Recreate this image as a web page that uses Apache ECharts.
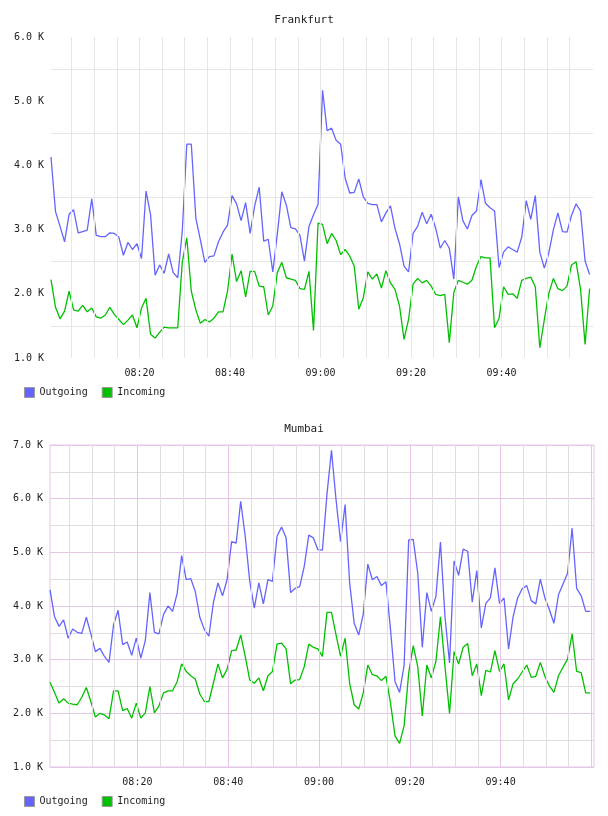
<!DOCTYPE html>
<html>
<head>
<meta charset="utf-8">
<script src="https://cdn.jsdelivr.net/npm/echarts@6/dist/echarts.min.js"></script>
<style>
  html, body { margin: 0; padding: 0; background: #fff; }
  #chart { width: 608px; height: 816px; }
</style>
</head>
<body>
<div id="chart"></div>
<script>
// minutes after 08:00 of the first sample, one sample per minute
const FRA_START = 0.45;
const MUM_START = 0.75;

const tickMinutes = [20, 40, 60, 80, 100];
const tickLabels = ['08:20', '08:40', '09:00', '09:20', '09:40'];

const frankfurtOut = [
  4130, 3280, 3050, 2810, 3240, 3310, 2950, 2970, 2990, 3480,
  2910, 2890, 2890, 2950, 2940, 2880, 2600, 2800, 2690, 2780,
  2550, 3600, 3230, 2290, 2450, 2320, 2620, 2330, 2250, 2970,
  4330, 4330, 3180, 2840, 2490, 2580, 2590, 2810, 2960, 3070,
  3530, 3400, 3140, 3420, 2940, 3370, 3660, 2820, 2850, 2340,
  2930, 3590, 3380, 3030, 3010, 2910, 2510, 3050, 3230, 3390,
  5170, 4540, 4580, 4390, 4330, 3800, 3570, 3580, 3790, 3510,
  3410, 3390, 3390, 3120, 3260, 3370, 3020, 2780, 2430, 2340,
  2940, 3050, 3270, 3090, 3240, 3020, 2710, 2830, 2710, 2230,
  3510, 3140, 3010, 3220, 3290, 3780, 3410, 3340, 3290, 2410,
  2650, 2730, 2690, 2650, 2880, 3450, 3160, 3530, 2650, 2400,
  2640, 3000, 3260, 2970, 2960, 3220, 3400, 3290, 2510, 2300
];
const frankfurtIn = [
  2220, 1790, 1610, 1730, 2040, 1750, 1730, 1820, 1720, 1780,
  1640, 1620, 1670, 1790, 1680, 1600, 1520, 1590, 1670, 1470,
  1780, 1930, 1370, 1310, 1400, 1480, 1470, 1470, 1470, 2490,
  2870, 2040, 1750, 1540, 1600, 1560, 1620, 1720, 1720, 2040,
  2620, 2190, 2360, 1950, 2350, 2350, 2120, 2110, 1670, 1810,
  2330, 2490, 2250, 2230, 2210, 2080, 2070, 2350, 1430, 3100,
  3080, 2780, 2940, 2830, 2610, 2690, 2590, 2430, 1760, 1940,
  2340, 2230, 2310, 2090, 2360, 2170, 2070, 1810, 1290, 1600,
  2150, 2240, 2170, 2210, 2120, 1990, 1970, 1990, 1240, 2020,
  2210, 2180, 2150, 2210, 2430, 2580, 2560, 2560, 1470, 1620,
  2110, 1990, 2000, 1930, 2210, 2240, 2260, 2110, 1160, 1600,
  2010, 2240, 2080, 2050, 2120, 2450, 2500, 2070, 1210, 2080
];
const mumbaiOut = [
  4300, 3800, 3620, 3740, 3400, 3570, 3510, 3490, 3790, 3480,
  3150, 3210, 3060, 2950, 3650, 3920, 3280, 3330, 3080, 3400,
  3030, 3360, 4250, 3510, 3480, 3840, 4000, 3900, 4230, 4940,
  4490, 4510, 4270, 3790, 3560, 3440, 4070, 4430, 4190, 4490,
  5200, 5170, 5950, 5300, 4460, 3960, 4430, 4040, 4490, 4460,
  5300, 5470, 5270, 4250, 4330, 4360, 4740, 5320, 5270, 5050,
  5040, 6080, 6900, 5980, 5200, 5890, 4430, 3680, 3460, 3850,
  4780, 4490, 4550, 4380, 4450, 3560, 2590, 2390, 2900, 5230,
  5240, 4610, 3230, 4250, 3900, 4180, 5190, 3800, 2940, 4840,
  4570, 5060, 5020, 4070, 4660, 3590, 4050, 4150, 4710, 4050,
  4150, 3200, 3800, 4150, 4320, 4380, 4100, 4040, 4500, 4150,
  3930, 3680, 4210, 4410, 4610, 5450, 4330, 4190, 3900, 3900
];
const mumbaiIn = [
  2580, 2390, 2190, 2270, 2190, 2170, 2160, 2300, 2480, 2220,
  1930, 2000, 1970, 1900, 2420, 2420, 2050, 2090, 1910, 2190,
  1910, 2010, 2500, 2010, 2140, 2380, 2420, 2420, 2590, 2920,
  2780, 2700, 2640, 2360, 2220, 2220, 2570, 2920, 2660, 2820,
  3170, 3180, 3460, 3060, 2620, 2560, 2660, 2420, 2700, 2780,
  3290, 3310, 3200, 2550, 2620, 2630, 2870, 3290, 3230, 3200,
  3060, 3880, 3880, 3460, 3060, 3400, 2560, 2160, 2080, 2380,
  2900, 2720, 2700, 2610, 2690, 2190, 1580, 1440, 1770, 2750,
  3260, 2870, 1950, 2900, 2660, 2970, 3800, 2870, 2000, 3150,
  2920, 3230, 3300, 2700, 2920, 2330, 2800, 2770, 3170, 2780,
  2920, 2250, 2550, 2640, 2770, 2900, 2670, 2690, 2950, 2690,
  2510, 2390, 2700, 2860, 3010, 3480, 2780, 2760, 2380, 2380
];

const FONT = '"DejaVu Sans Mono", monospace';
const TEXT = '#222';
const BLUE = '#6464ff';
const GREEN = '#00c000';
const FRA_GRID = '#e6e6e6';
const MUM_MINOR = '#dedede';
const MUM_MAJOR = '#e6c6e6';

function toPairs(start, values) {
  return values.map((v, i) => [start + i, v]);
}

// vertical grid lines every 5 minutes, drawn through the x scale
function vLines(colorFor, last) {
  const out = [];
  for (let m = 5; m <= last; m += 5) {
    out.push({ xAxis: m, lineStyle: { color: colorFor(m), type: 'solid', width: 1 } });
  }
  return out;
}

function tickLabel(v) {
  const k = tickMinutes.indexOf(Math.round(v));
  return k >= 0 ? tickLabels[k] : '';
}

const chart = echarts.init(document.getElementById('chart'));

const labelStyle = { fontFamily: FONT, fontSize: 10, color: TEXT };

function xAxisFor(gridIndex, min, max) {
  return {
    type: 'value',
    gridIndex,
    min,
    max,
    axisLine: { show: false },
    axisTick: { show: false },
    splitLine: { show: false },
    axisLabel: Object.assign({
      customValues: tickMinutes,
      formatter: tickLabel,
      margin: 10
    }, labelStyle)
  };
}

function yAxisFor(gridIndex, max, majorColor, minorColor) {
  return {
    type: 'value',
    gridIndex,
    min: 1000,
    max,
    interval: 1000,
    axisLine: { show: false },
    axisTick: { show: false },
    axisLabel: Object.assign({
      margin: 7,
      formatter: v => (v / 1000).toFixed(1) + ' K'
    }, labelStyle),
    splitLine: { show: !!majorColor, lineStyle: { color: majorColor || '#fff' } },
    minorTick: { show: false, splitNumber: 2 },
    minorSplitLine: { show: true, lineStyle: { color: minorColor } }
  };
}

function lineSeries(name, idx, data, color) {
  return {
    name,
    type: 'line',
    xAxisIndex: idx,
    yAxisIndex: idx,
    data,
    showSymbol: false,
    symbol: 'none',
    z: 3,
    lineStyle: { color, width: 1.3 },
    itemStyle: { color }
  };
}

function gridLineSeries(idx, data, lines) {
  return {
    type: 'line',
    xAxisIndex: idx,
    yAxisIndex: idx,
    data,
    silent: true,
    z: 1,
    showSymbol: false,
    symbol: 'none',
    lineStyle: { opacity: 0 },
    markLine: {
      silent: true,
      symbol: ['none', 'none'],
      label: { show: false },
      animation: false,
      data: lines
    }
  };
}

const legendBase = {
  data: ['Outgoing', 'Incoming'],
  left: 24,
  padding: 0,
  icon: 'rect',
  itemWidth: 10,
  itemHeight: 10,
  itemGap: 14,
  itemStyle: { borderColor: '#999', borderWidth: 1 },
  textStyle: { fontFamily: FONT, fontSize: 10, color: TEXT }
};

const titleStyle = { fontFamily: FONT, fontSize: 11, fontWeight: 'normal', color: TEXT };

const option = {
  animation: false,
  backgroundColor: '#fff',
  title: [
    { text: 'Frankfurt', left: 'center', top: 15, padding: 0, textStyle: titleStyle },
    { text: 'Mumbai', left: 'center', top: 424, padding: 0, textStyle: titleStyle }
  ],
  legend: [
    Object.assign({ top: 387 }, legendBase),
    Object.assign({ top: 796 }, legendBase)
  ],
  grid: [
    { left: 51, top: 37, width: 542, height: 321 },
    { left: 50, top: 445, width: 544, height: 322, show: true,
      borderColor: MUM_MAJOR, borderWidth: 1, backgroundColor: 'transparent' }
  ],
  xAxis: [
    xAxisFor(0, FRA_START, 120.2),
    xAxisFor(1, MUM_START, 120.57)
  ],
  yAxis: [
    yAxisFor(0, 6000, null, FRA_GRID),
    yAxisFor(1, 7000, MUM_MAJOR, MUM_MINOR)
  ],
  series: [
    gridLineSeries(0, toPairs(FRA_START, frankfurtOut), vLines(() => FRA_GRID, 115)),
    gridLineSeries(1, toPairs(MUM_START, mumbaiOut),
      vLines(m => (m % 20 === 0 ? MUM_MAJOR : MUM_MINOR), 120)),
    lineSeries('Outgoing', 0, toPairs(FRA_START, frankfurtOut), BLUE),
    lineSeries('Incoming', 0, toPairs(FRA_START, frankfurtIn), GREEN),
    lineSeries('Outgoing', 1, toPairs(MUM_START, mumbaiOut), BLUE),
    lineSeries('Incoming', 1, toPairs(MUM_START, mumbaiIn), GREEN)
  ]
};

option && chart.setOption(option);
</script>
</body>
</html>
